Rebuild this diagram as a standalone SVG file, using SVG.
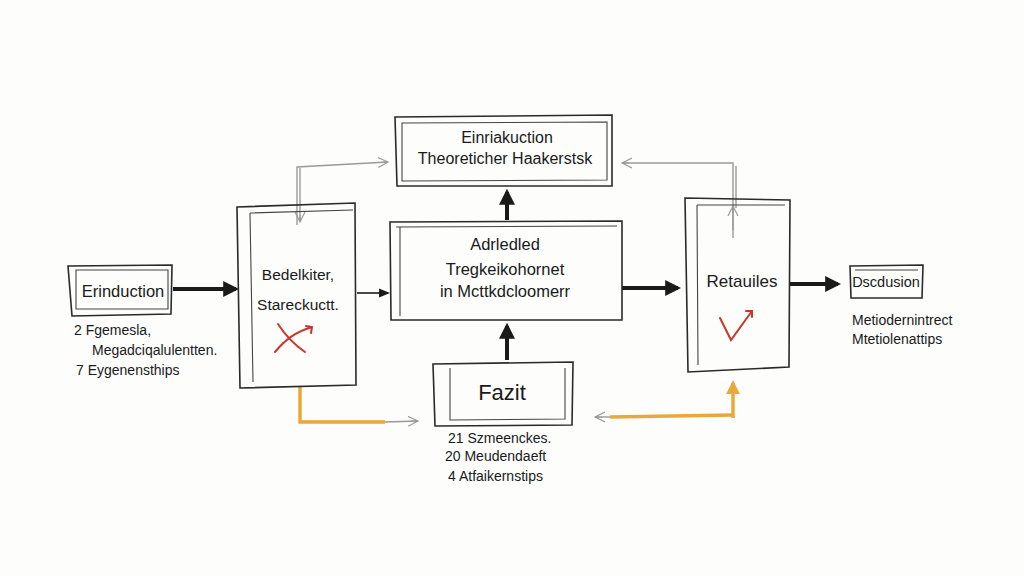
<svg xmlns="http://www.w3.org/2000/svg" width="1024" height="576" viewBox="0 0 1024 576">
<style>
.bx{fill:none;stroke:#2a2a2a;stroke-width:1.6;stroke-linecap:round}
.bx2{fill:none;stroke:#444;stroke-width:1.1}
.t{font-family:"Liberation Sans",Arial,sans-serif;fill:#1a1a1a;text-anchor:middle}
.s{font-family:"Liberation Sans",Arial,sans-serif;fill:#1a1a1a;font-size:14px}
.thick{fill:none;stroke:#1a1a1a;stroke-width:4}
.thin{fill:none;stroke:#1a1a1a;stroke-width:1.6}
.gray{fill:none;stroke:#9a9a9a;stroke-width:1.4}
.org{fill:none;stroke:#e8a93a;stroke-width:3.5}
.red{fill:none;stroke:#c8382a;stroke-width:2;stroke-linecap:round}
</style>
<defs>
<marker id="ah" viewBox="0 0 10 10" refX="8" refY="5" markerWidth="4" markerHeight="4" orient="auto"><path d="M0,0 L10,5 L0,10 z" fill="#1a1a1a"/></marker>
<marker id="ahs" viewBox="0 0 10 10" refX="8" refY="5" markerWidth="7" markerHeight="7" orient="auto"><path d="M0,1 L10,5 L0,9 z" fill="#1a1a1a"/></marker>
<marker id="ag" viewBox="0 0 12 12" refX="10" refY="6" markerWidth="12" markerHeight="12" markerUnits="userSpaceOnUse" orient="auto"><path d="M0,1 L10,6 L0,11 M3,6 L10,6" fill="none" stroke="#9a9a9a" stroke-width="1.2"/></marker>
<marker id="ao" viewBox="0 0 10 10" refX="8" refY="5" markerWidth="4" markerHeight="4" orient="auto"><path d="M0,0 L10,5 L0,10 z" fill="#e8a93a"/></marker>
</defs>
<rect width="1024" height="576" fill="#fdfdfc"/>

<g id="connectors">
<path class="thick" d="M173,289 L236,289" marker-end="url(#ah)"/>
<path class="thin" d="M357,293 L388,293" marker-end="url(#ahs)"/>
<path class="thick" d="M507,220 L507,192" marker-end="url(#ah)"/>
<path class="thick" d="M507,360 L507,326" marker-end="url(#ah)"/>
<path class="thick" d="M622,288 L678,288" marker-end="url(#ah)"/>
<path class="thick" d="M790,284 L838,284" marker-end="url(#ah)"/>
<path class="gray" d="M297,225 L297,167 L388,162" marker-end="url(#ag)"/>
<path class="gray" d="M300,168 L300,222" marker-end="url(#ag)"/>
<path class="gray" d="M733,238 L733,163 L622,163" marker-end="url(#ag)"/>
<path class="gray" d="M736,166 L736,208" />
<path class="gray" d="M733,230 L733,206" marker-end="url(#ag)"/>
<path class="org" d="M300,387 L300,422 L385,422"/>
<path class="gray" d="M385,422 L418,421" marker-end="url(#ag)"/>
<path class="org" d="M733,415 L610,417"/>
<path class="gray" d="M610,417 L595,417" marker-end="url(#ag)"/>
<path class="org" d="M733,418 L733,383" marker-end="url(#ao)"/>
</g>

<g id="erinduction">
<path class="bx" d="M68,266 L172,265 L171,314 L72,316 Z"/>
<path class="bx2" d="M76,270 L168,270 L168,309 L76,309 Z"/>
<text class="t" x="123" y="297" font-size="16.5">Erinduction</text>
<text class="s" x="74" y="335">2 Fgemesla,</text>
<text class="s" x="92" y="355">Megadciqalulentten.</text>
<text class="s" x="76" y="375">7 Eygenensthips</text>
</g>

<g id="bedelkiter">
<path class="bx" d="M237,207 L355,203 L356,385 L240,388 Z"/>
<path class="bx2" d="M250,213 L353,210 M250,213 L253,382"/>
<text class="t" x="298" y="280" font-size="15.5">Bedelkiter,</text>
<text class="t" x="298" y="310" font-size="15.5">Stareckuctt.</text>
<path class="red" d="M278,324 C285,335 295,345 305,352 M275,352 C285,340 295,332 312,327 M306,326 L312,327 L311,333"/>
</g>

<g id="theory">
<path class="bx" d="M395,117 L612,115 L612,186 L397,186 Z"/>
<path class="bx2" d="M402,123 L607,122 L607,180 L402,181 Z"/>
<text class="t" x="507" y="143" font-size="16">Einriakuction</text>
<text class="t" x="505" y="164" font-size="16">Theoreticher Haakerstsk</text>
</g>

<g id="middle">
<path class="bx" d="M390,222 L622,221 L622,320 L391,320 Z"/>
<path class="bx2" d="M396,227 L617,226 M400,227 L400,316"/>
<text class="t" x="505" y="250" font-size="16.5">Adrledled</text>
<text class="t" x="505" y="275" font-size="16.5">Tregkeikohornet</text>
<text class="t" x="505" y="297" font-size="16.5">in Mcttkdcloomerr</text>
</g>

<g id="fazit">
<path class="bx" d="M433,364 L573,362 L572,425 L435,426 Z"/>
<path class="bx2" d="M450,368 L450,420 L565,419 L565,368"/>
<text class="t" x="502" y="400" font-size="22">Fazit</text>
<text class="s" x="448" y="443">21 Szmeenckes.</text>
<text class="s" x="445" y="461">20 Meudendaeft</text>
<text class="s" x="448" y="481">4 Atfaikernstips</text>
</g>

<g id="retauiles">
<path class="bx" d="M685,198 L790,200 L789,367 L688,372 Z"/>
<path class="bx2" d="M697,205 L785,205 M697,205 L698,365"/>
<text class="t" x="742" y="287" font-size="17">Retauiles</text>
<path class="red" d="M720,318 L731,340 L752,311 M746,311 L752,311 L752,317"/>
</g>

<g id="discussion">
<path class="bx" d="M850,266 L923,265 L922,298 L851,298 Z"/>
<path class="bx2" d="M855,270 L918,270"/>
<text class="t" x="886" y="287" font-size="14.5">Dscdusion</text>
<text class="s" x="852" y="325" font-size="15">Metiodernintrect</text>
<text class="s" x="852" y="344" font-size="15">Mtetiolenattips</text>
</g>
</svg>
